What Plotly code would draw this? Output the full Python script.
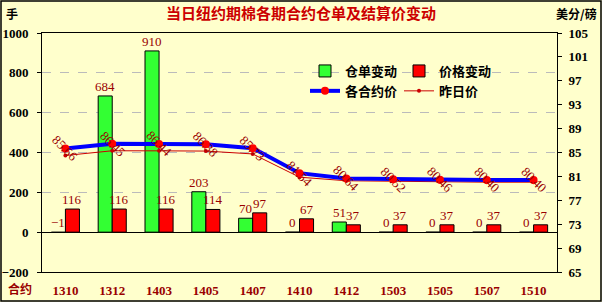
import plotly.graph_objects as go

contracts = ["1310", "1312", "1403", "1405", "1407", "1410", "1412", "1503", "1505", "1507", "1510"]
warehouse_change = [-1, 684, 910, 203, 70, 0, 51, 0, 0, 0, 0]
price_change = [116, 116, 116, 114, 97, 67, 37, 37, 37, 37, 37]
settle_price = [85.66, 86.45, 86.44, 86.38, 85.73, 81.54, 80.64, 80.52, 80.46, 80.40, 80.40]
prev_price = [84.50, 85.29, 85.28, 85.24, 84.76, 80.87, 80.27, 80.15, 80.09, 80.03, 80.03]

left_ticks = [-200, 0, 200, 400, 600, 800, 1000]
right_ticks = [65, 69, 73, 77, 81, 85, 89, 93, 97, 101, 105]

BG = "#FFFFCC"
DARKRED = "#990000"
SERIF = "Liberation Serif"
CJK = "Noto Sans CJK SC"

idx = list(range(len(contracts)))

fig = go.Figure()
fig.add_trace(go.Bar(
    x=idx, y=warehouse_change, name="仓单变动",
    marker=dict(color="#33FF33", line=dict(color="#000000", width=1)),
    legend="legend",
))
fig.add_trace(go.Bar(
    x=idx, y=price_change, name="价格变动",
    marker=dict(color="#FF0000", line=dict(color="#000000", width=1)),
    legend="legend2",
))
fig.add_trace(go.Scatter(
    x=idx, y=prev_price, name="昨日价", yaxis="y2",
    mode="lines+markers",
    line=dict(color="#CC0000", width=1),
    marker=dict(color="#CC0000", size=4),
    legend="legend2",
))
fig.add_trace(go.Scatter(
    x=idx, y=settle_price, name="各合约价", yaxis="y2",
    mode="lines+markers",
    line=dict(color="#0000FF", width=4),
    marker=dict(color="#FF0000", size=8),
    legend="legend",
))

annotations = []
for i, v in zip(idx, warehouse_change):
    annotations.append(dict(
        x=i, y=max(v, 0), xref="x", yref="y", text=str(v).replace("-", "−"),
        showarrow=False, xshift=-7, yanchor="bottom", xanchor="center",
        font=dict(family=SERIF, size=13, color=DARKRED),
    ))
for i, v in zip(idx, price_change):
    annotations.append(dict(
        x=i, y=v, xref="x", yref="y", text=str(v),
        showarrow=False, xshift=7, yanchor="bottom", xanchor="center",
        font=dict(family=SERIF, size=13, color=DARKRED),
    ))
for i, v in zip(idx, settle_price):
    annotations.append(dict(
        x=i, y=v, xref="x", yref="y2", text=f"{v:.2f}",
        showarrow=False, textangle=45, xanchor="center", yanchor="middle",
        font=dict(family=SERIF, size=13, color=DARKRED),
    ))

W, H = 602, 302
ML, MR, MT, MB = 42, 45, 33, 30
PW, PH = W - ML - MR, H - MT - MB

unit_labels = [
    (12, 14, "<b>手</b>", "#000000"),
    (576, 14, "<b>美分/磅</b>", "#000000"),
    (20, 288, "<b>合约</b>", DARKRED),
]
for px, py, t, col in unit_labels:
    annotations.append(dict(
        x=(px - ML) / PW, y=1 - (py - MT) / PH, xref="paper", yref="paper",
        text=t, showarrow=False, xanchor="center", yanchor="middle",
        font=dict(family=CJK, size=12, color=col),
    ))

fig.update_layout(
    width=W, height=H,
    margin=dict(l=ML, r=MR, t=MT, b=MB, pad=0, autoexpand=False),
    paper_bgcolor=BG, plot_bgcolor=BG,
    barmode="group", bargap=0.4, bargroupgap=0,
    title=dict(text="<b>当日纽约期棉各期合约仓单及结算价变动</b>", x=0.5, xanchor="center",
               y=1 - 14 / H, yanchor="middle",
               font=dict(family=CJK, size=15, color="#CC0000")),
    xaxis=dict(
        range=[-0.5, len(contracts) - 0.5], tickvals=idx, ticktext=contracts,
        showline=True, linecolor="#000000", linewidth=1, mirror=True,
        ticks="", showgrid=False, zeroline=False, ticklabelstandoff=6, automargin=False,
        tickfont=dict(family=SERIF, size=13, color=DARKRED, weight="bold"),
    ),
    yaxis=dict(
        range=[-200, 1000], tickvals=left_ticks, showline=True, linecolor="#000000",
        linewidth=1, ticks="outside", ticklen=4, tickcolor="#000000",
        showgrid=True, gridcolor="#BBBBBB", griddash="dash", gridwidth=1,
        zeroline=True, zerolinecolor="#000000", zerolinewidth=1, automargin=False,
        tickfont=dict(family=SERIF, size=13, color="#000000", weight="bold"),
        ticklabelstandoff=6,
    ),
    yaxis2=dict(
        range=[65, 105], tickvals=right_ticks, overlaying="y", side="right",
        showline=True, linecolor="#000000", linewidth=1, ticks="outside", ticklen=4,
        tickcolor="#000000", showgrid=False, zeroline=False, automargin=False,
        tickfont=dict(family=SERIF, size=13, color="#000000", weight="bold"),
        ticklabelstandoff=4,
    ),
    legend=dict(x=(305 - ML) / PW, y=1 - (56 - MT) / PH, xanchor="left", yanchor="top",
                bgcolor="rgba(0,0,0,0)", tracegroupgap=4, traceorder="normal",
                font=dict(family=CJK, size=13, color="#000000", weight="bold")),
    legend2=dict(x=(399 - ML) / PW, y=1 - (56 - MT) / PH, xanchor="left", yanchor="top",
                 bgcolor="rgba(0,0,0,0)", tracegroupgap=4, traceorder="normal",
                 font=dict(family=CJK, size=13, color="#000000", weight="bold")),
    annotations=annotations,
    shapes=[dict(type="rect", xref="paper", yref="paper",
                 x0=-(ML - 1) / PW, x1=1 + (MR - 1) / PW,
                 y0=-(MB - 1) / PH, y1=1 + (MT - 1) / PH,
                 line=dict(color="#000000", width=1.5), layer="above")],
)

fig.write_html("out.html")
